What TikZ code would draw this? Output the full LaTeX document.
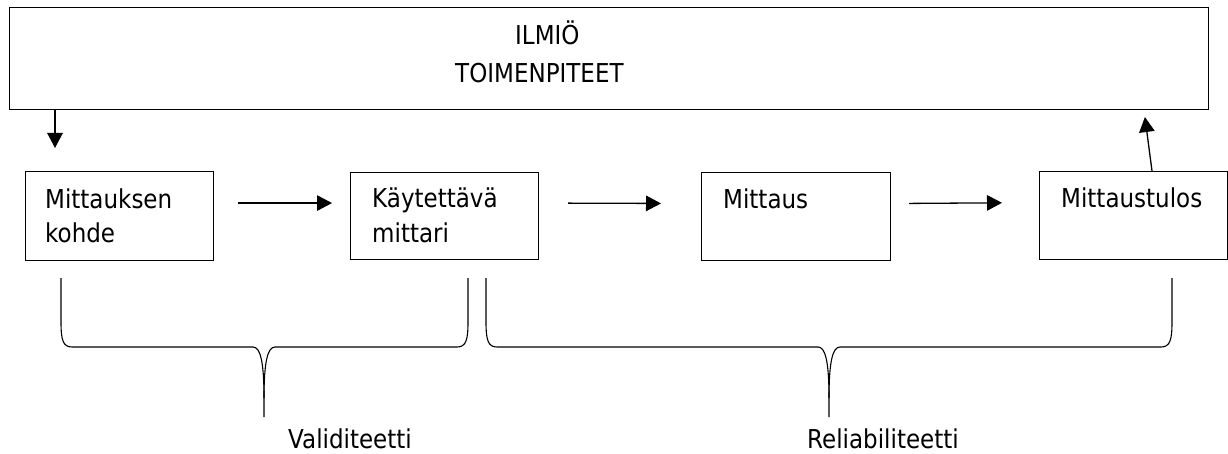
\documentclass[tikz,border=0pt]{standalone}
\usepackage{fontspec}
\setmainfont{DejaVu Sans}[FakeStretch=0.885]
\usetikzlibrary{arrows.meta}

\begin{document}
\begin{tikzpicture}[x=1pt,y=-1pt,
  frame/.style={draw=black, line width=1.1pt, rectangle, inner sep=0pt, anchor=north west},
  lbl/.style={anchor=base west, inner sep=0pt, font=\fontsize{26}{32}\selectfont},
  arr/.style={line width=1.3pt, -{Triangle[length=15pt,width=15.5pt]}},
  brace/.style={line width=1.1pt, line join=round}]
\useasboundingbox (0,0) rectangle (1228,454);
\fill[white] (0,0) rectangle (1228,454);

% phenomenon frame
\node[frame, minimum width=1199pt, minimum height=102pt] (top) at (9,7) {};
\node[lbl] (ilmio) at (515,45) {ILMIÖ};
\node[lbl] (toim) at (455,83) {TOIMENPITEET};

% process boxes
\node[frame, minimum width=188pt, minimum height=89pt] (b1) at (25,171) {};
\node[frame, minimum width=188pt, minimum height=87pt] (b2) at (350,172) {};
\node[frame, minimum width=189pt, minimum height=88pt] (b3) at (701,172) {};
\node[frame, minimum width=188pt, minimum height=88pt] (b4) at (1039,171) {};

\node[lbl] (t1a) at (45,209) {Mittauksen};
\node[lbl] (t1b) at (45,243) {kohde};
\node[lbl] (t2a) at (372,208) {Käytettävä};
\node[lbl] (t2b) at (372,243) {mittari};
\node[lbl] (t3a) at (723,209) {Mittaus};
\node[lbl] (t4a) at (1061,208) {Mittaustulos};

% flow arrows
\draw[arr, shorten >=23pt] ([xshift=46pt]top.south west) -- ([xshift=30pt]b1.north west);
\draw[arr, shorten <=24pt, shorten >=18pt] ([yshift=13pt]b1.east) -- ([yshift=13pt]b2.west);
\draw[arr, shorten <=29pt, shorten >=40pt] ([yshift=13pt]b2.east) -- ([yshift=13pt]b3.west);
\draw[arr, shorten <=18pt, shorten >=37pt] ([yshift=13pt]b3.east) -- ([yshift=13pt]b4.west);
\draw[arr, shorten >=7pt] ([xshift=113pt]b4.north west) -- ([xshift=1135pt]top.south west);

% braces
\draw[brace] (61,278) -- (61,322) .. controls (61,340) and (63,347) .. (72,347) -- (253,347)
  .. controls (260,347) and (264,360) .. (264,398) -- (264,417);
\draw[brace] (264,398) .. controls (264,360) and (268,347) .. (275,347) -- (457,347)
  .. controls (466,347) and (468,340) .. (468,322) -- (468,278);
\draw[brace] (486,278) -- (486,322) .. controls (486,340) and (488,347) .. (497,347) -- (818,347)
  .. controls (825,347) and (829,360) .. (829,398) -- (829,417);
\draw[brace] (829,398) .. controls (829,360) and (833,347) .. (840,347) -- (1161,347)
  .. controls (1170,347) and (1172,340) .. (1172,322) -- (1172,278);

\node[lbl] (val) at (288,448) {Validiteetti};
\node[lbl] (rel) at (807,448) {Reliabiliteetti};
\end{tikzpicture}
\end{document}
